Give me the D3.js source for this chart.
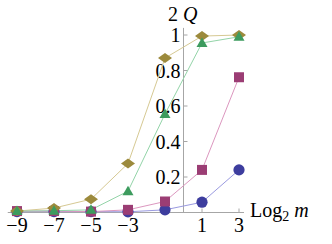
<!DOCTYPE html>
<html>
<head>
<meta charset="utf-8">
<script src="https://cdn.jsdelivr.net/npm/d3@7"></script>
<style>
  body { margin: 0; background: #fff; }
  svg { display: block; }
</style>
</head>
<body>
<div class="chart"></div>
<script>
// values
const log2m = [-9, -7, -5, -3, -1, 1, 3];
const blueQ = [0.005, 0.005, 0.005, 0.004, 0.015, 0.058, 0.24];
const magentaQ = [0.008, 0.008, 0.005, 0.015, 0.062, 0.24, 0.762];
const greenQ = [0.008, 0.01, 0.015, 0.12, 0.555, 0.955, 0.99];
const goldQ = [0.008, 0.025, 0.075, 0.276, 0.87, 0.994, 1.0];

const xTicks = [-9, -7, -5, -3, 1, 3];
const yTicks = [0.2, 0.4, 0.6, 0.8, 1];

const width = 332, height = 244;
const serif = "'Liberation Serif', 'Times New Roman', Times, 'DejaVu Serif', serif";

const svg = d3.select('.chart').append('svg')
  .attr('width', width)
  .attr('height', height)
  .attr('font-family', serif);

const x = d3.scaleLinear().domain([-9.5, 3.27]).range([7.75, 244]);
const y = d3.scaleLinear().domain([0, 1]).range([212.5, 35]);

const axisColor = '#a6a6a6';

// axes
svg.append('line')
  .attr('x1', x(-9.5)).attr('x2', x(3.27))
  .attr('y1', y(0)).attr('y2', y(0))
  .attr('stroke', axisColor).attr('stroke-width', 1);

svg.append('line')
  .attr('x1', x(0)).attr('x2', x(0))
  .attr('y1', y(0)).attr('y2', y(1.04))
  .attr('stroke', axisColor).attr('stroke-width', 1);

svg.selectAll('.xtick')
  .data(xTicks)
  .enter().append('line')
  .attr('x1', d => x(d)).attr('x2', d => x(d))
  .attr('y1', y(0)).attr('y2', y(0) - 4)
  .attr('stroke', axisColor);

svg.selectAll('.xlab')
  .data(xTicks)
  .enter().append('text')
  .attr('x', d => x(d))
  .attr('y', 232)
  .attr('text-anchor', 'middle')
  .attr('font-family', serif)
  .attr('font-size', 20)
  .text(d => d < 0 ? '\u2212' + Math.abs(d) : d);

svg.selectAll('.ytick')
  .data(yTicks)
  .enter().append('line')
  .attr('x1', x(0)).attr('x2', x(0) + 4)
  .attr('y1', d => y(d)).attr('y2', d => y(d))
  .attr('stroke', axisColor);

svg.selectAll('.ylab')
  .data(yTicks)
  .enter().append('text')
  .attr('x', x(0) - 3)
  .attr('y', d => y(d) + 7)
  .attr('text-anchor', 'end')
  .attr('font-family', serif)
  .attr('font-size', 20)
  .text(d => d === 1 ? '1' : d3.format('.1f')(d));

// axis labels
const ql = svg.append('text').attr('x', 168).attr('y', 21)
  .attr('font-family', serif).attr('font-size', 20);
ql.append('tspan').text('2 ');
ql.append('tspan').attr('font-style', 'italic').text('Q');

const xl = svg.append('text').attr('x', 250).attr('y', 217)
  .attr('font-family', serif).attr('font-size', 20);
xl.append('tspan').text('Log');
xl.append('tspan').attr('dy', 4).attr('font-size', 14).text('2');
xl.append('tspan').attr('dy', -4).attr('font-style', 'italic').text(' m');

// series
const series = [
  { name: 'blue', vals: blueQ, color: '#3d3d9e', line: '#9a9ae0', shape: 'circle' },
  { name: 'magenta', vals: magentaQ, color: '#9b3d74', line: '#dc97bf', shape: 'square' },
  { name: 'gold', vals: goldQ, color: '#9c8a3c', line: '#d6c993', shape: 'diamond' },
  { name: 'green', vals: greenQ, color: '#3d9b5e', line: '#93d4a8', shape: 'triangle' }
];

const line = d3.line()
  .x((d, i) => x(log2m[i]))
  .y(d => y(d));

series.forEach(s => {
  svg.append('path')
    .datum(s.vals)
    .attr('d', line)
    .attr('fill', 'none')
    .attr('stroke', s.line)
    .attr('stroke-width', 1);
});

const shapes = {
  circle: 'M0,-5.6A5.6,5.6 0 1,1 0,5.6A5.6,5.6 0 1,1 0,-5.6Z',
  square: 'M-5,-5H5V5H-5Z',
  diamond: 'M-7,0L0,-5L7,0L0,5Z',
  triangle: 'M0,-5.5L5.5,4L-5.5,4Z'
};

series.forEach(s => {
  svg.selectAll('.m-' + s.name)
    .data(s.vals)
    .enter().append('path')
    .attr('d', shapes[s.shape])
    .attr('transform', (d, i) => 'translate(' + x(log2m[i]) + ',' + y(d) + ')')
    .attr('fill', s.color);
});
</script>
</body>
</html>
